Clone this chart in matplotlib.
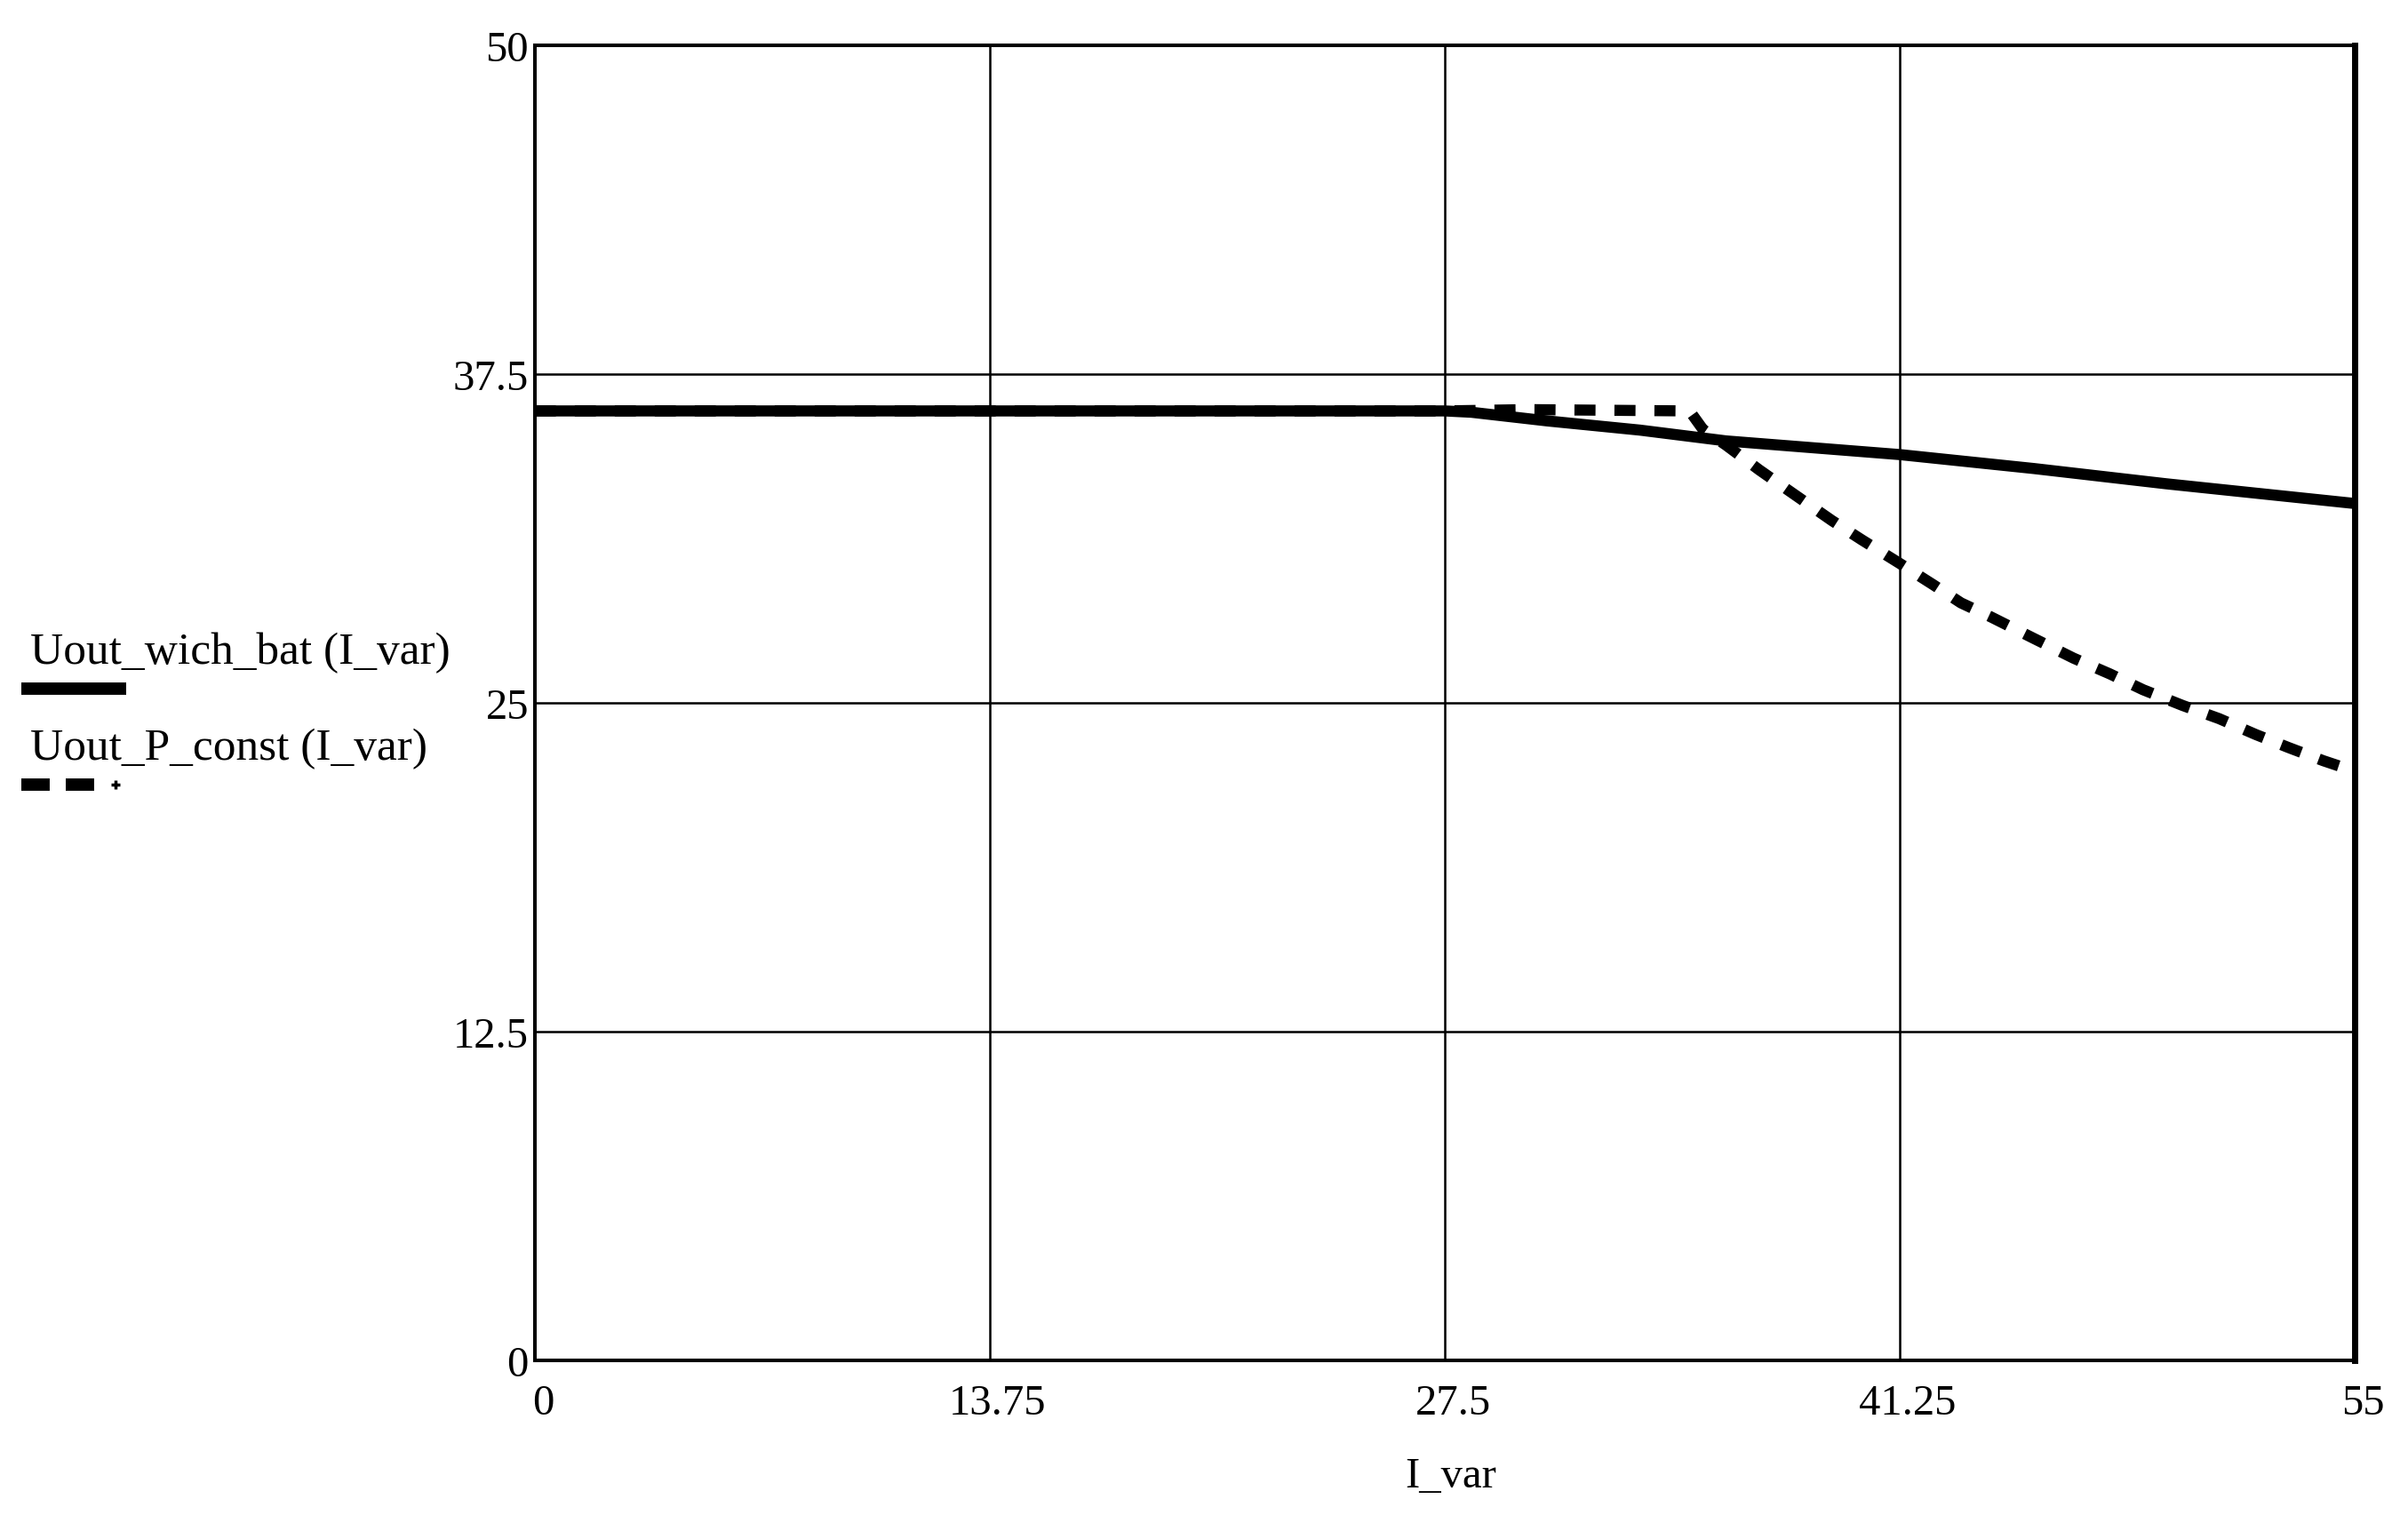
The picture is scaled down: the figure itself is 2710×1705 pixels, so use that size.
import numpy as np
import matplotlib
matplotlib.use('Agg')
import matplotlib.pyplot as plt
from matplotlib.lines import Line2D

plt.rcParams['font.family'] = ['Liberation Serif', 'DejaVu Serif']

# data
i_wich = [0, 27.5, 28.3, 30.6, 33.4, 36.0, 41.25, 45.3, 49.3, 55]
u_wich = [36.1, 36.1, 36.05, 35.72, 35.37, 34.96, 34.44, 33.91, 33.33, 32.58]

i_pconst = [0, 27.5, 30.0, 34.9, 35.3, 36.0, 37.0, 38.0, 39.2, 40.1, 41.25, 42.25,
            43.1, 44.0, 45.3, 46.5, 47.6, 48.6, 49.8, 50.9, 52.0, 53.0, 54.05, 55]
u_pconst = [36.1, 36.1, 36.15, 36.1, 35.4, 34.8, 33.86, 32.98, 31.93, 31.2, 30.3, 29.5,
            28.8, 28.27, 27.45, 26.7, 26.1, 25.5, 24.9, 24.4, 23.8, 23.3, 22.8, 22.4]

x_ticks = [0, 13.75, 27.5, 41.25, 55]
x_ticklabels = ['0', '13.75', '27.5', '41.25', '55']
y_ticks = [0, 12.5, 25, 37.5, 50]
y_ticklabels = ['0', '12.5', '25', '37.5', '50']

labels = ['Uout_wich_bat (I_var)', 'Uout_P_const (I_var)']
fs = 35
fs_leg = 37

fig = plt.figure(figsize=(27.1, 17.06), dpi=100)
ax = fig.add_axes([0.2221, 0.1020, 0.9779 - 0.2221, 0.9695 - 0.1020])

ax.plot(i_wich, u_wich, color='black', lw=9, solid_capstyle='butt', zorder=3)
ax.plot(i_pconst, u_pconst, color='black', lw=9, dashes=(1.9, 1.7),
        dash_capstyle='butt', zorder=4)

ax.set_xlim(0, 55)
ax.set_ylim(0, 50)
ax.set_xticks(x_ticks)
ax.set_yticks(y_ticks)
ax.set_xticklabels([])
ax.set_yticklabels(y_ticklabels, fontsize=fs)
ax.tick_params(axis='both', length=0)
ax.tick_params(axis='y', pad=5)
ax.grid(True, color='black', lw=1.8)

# x labels sit a bit right of their grid lines
for xv, lab in zip(x_ticks, x_ticklabels):
    ax.annotate(lab, xy=(xv, 0), xycoords='data', xytext=(9, -26),
                textcoords='offset pixels', ha='center', va='top', fontsize=fs)

for side in ['left', 'bottom', 'top']:
    ax.spines[side].set_linewidth(2.9)
ax.spines['right'].set_linewidth(5)

fig.text(0.6026, 1 - 1662 / 1706, 'I_var', ha='center', va='center', fontsize=fs)

# Mathcad style legend: name above a line sample
fig.text(34 / 2710, 1 - 747 / 1706, labels[0], ha='left', va='baseline', fontsize=fs_leg)
fig.add_artist(Line2D([24 / 2710, 142 / 2710], [1 - 776 / 1706] * 2,
                      color='black', lw=10, solid_capstyle='butt'))
fig.text(34 / 2710, 1 - 855 / 1706, labels[1], ha='left', va='baseline', fontsize=fs_leg)
fig.add_artist(Line2D([24 / 2710, 106 / 2710], [1 - 884 / 1706] * 2,
                      color='black', lw=10, dashes=(2.3, 1.3), dash_capstyle='butt'))
fig.add_artist(Line2D([130 / 2710], [1 - 884 / 1706], color='black', lw=0,
                      marker='+', markersize=7, markeredgewidth=2.5))

fig.savefig('out.png', dpi=100)
